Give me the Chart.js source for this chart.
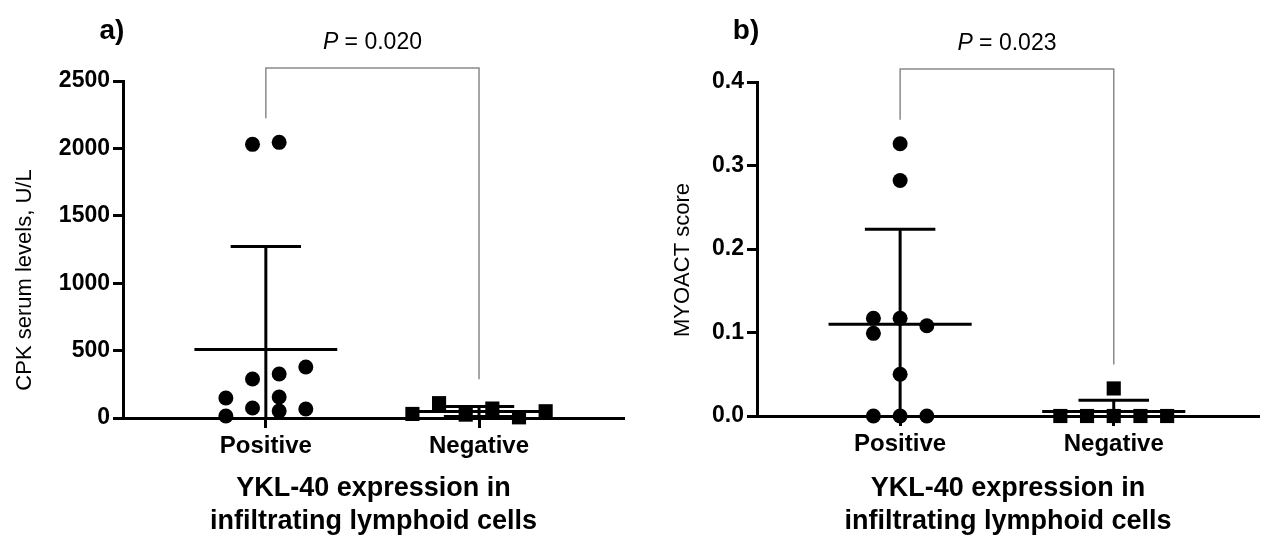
<!DOCTYPE html>
<html lang="en">
<head>
<meta charset="UTF-8">
<title>YKL-40 expression in infiltrating lymphoid cells</title>
<script src="https://cdn.jsdelivr.net/npm/chart.js"></script>
<style>
  body { margin: 0; background: #fff; }
  #wrap { position: relative; width: 1269px; height: 538px; }
  .panel { position: absolute; top: 0; height: 538px; }
</style>
</head>
<body>
<div id="wrap">
  <div class="panel" style="left:0;width:634px"><canvas id="chartA"></canvas></div>
  <div class="panel" style="left:634px;width:635px"><canvas id="chartB"></canvas></div>
</div>
<script>
const categories = ['Positive', 'Negative'];

// a) CPK serum levels, U/L
const cpkPositive = [2030, 2045, 378, 289, 326, 148, 156, 74, 67, 52, 15];
const cpkPositiveCol = [-0.5, 0.5, 1.5, -0.5, 0.5, -1.5, 0.5, -0.5, 1.5, 0.5, -1.5];
const cpkNegative = [30, 110, 25, 70, 5, 50];
const cpkNegativeCol = [-2.5, -1.5, -0.5, 0.5, 1.5, 2.5];
const cpkTicks = [0, 500, 1000, 1500, 2000, 2500];

// b) MYOACT score
const myoPositive = [0.326, 0.282, 0.117, 0.117, 0.108, 0.099, 0.05, 0, 0, 0];
const myoPositiveCol = [0, 0, -1, 0, 1, -1, 0, -1, 0, 1];
const myoNegative = [0, 0, 0, 0, 0, 0.033];
const myoNegativeCol = [-2, -1, 0, 1, 2, 0];
const myoTicks = [0, 0.1, 0.2, 0.3, 0.4];

const pValues = ['0.020', '0.023'];

const FONT = "'Liberation Sans', Arial, sans-serif";
Chart.defaults.font.family = FONT;
Chart.defaults.color = '#000';

const JITTER = 0.125, MEAN_HALF = 0.335, CAP_HALF = 0.165;

function mean(a) { return a.reduce((s, v) => s + v, 0) / a.length; }
function sd(a) {
  const m = mean(a);
  return Math.sqrt(a.reduce((s, v) => s + (v - m) * (v - m), 0) / (a.length - 1));
}

function groupDatasets(values, cols, center, style, radius) {
  const m = mean(values), s = sd(values);
  const seg = pts => ({
    type: 'line', data: pts, borderColor: '#000', borderWidth: 3,
    pointRadius: 0, clip: 0, order: 2
  });
  return [
    seg([{ x: center - MEAN_HALF, y: m }, { x: center + MEAN_HALF, y: m }]),
    seg([{ x: center, y: m - s }, { x: center, y: m + s }]),
    seg([{ x: center - CAP_HALF, y: m + s }, { x: center + CAP_HALF, y: m + s }]),
    seg([{ x: center - CAP_HALF, y: m - s }, { x: center + CAP_HALF, y: m - s }]),
    {
      type: 'scatter',
      data: values.map((v, i) => ({ x: center + cols[i] * JITTER, y: v })),
      pointStyle: style, pointRadius: radius, pointHoverRadius: radius,
      backgroundColor: '#000', borderColor: '#000', borderWidth: 0,
      clip: false, order: 1
    }
  ];
}

// bracket, P value, y title and panel letter
const annotate = {
  id: 'annotate',
  afterDraw(chart, args, o) {
    const { ctx, chartArea, scales: { x, y } } = chart;
    const x1 = x.getPixelForValue(1), x2 = x.getPixelForValue(2);
    const top = chartArea.top - 13;
    const yl = y.getPixelForValue(o.leftMax) - 24;
    const yr = y.getPixelForValue(o.rightMax) - 24;
    ctx.save();
    ctx.strokeStyle = '#8a8a8a';
    ctx.lineWidth = 1.5;
    ctx.beginPath();
    ctx.moveTo(x1, yl); ctx.lineTo(x1, top); ctx.lineTo(x2, top); ctx.lineTo(x2, yr);
    ctx.stroke();

    ctx.fillStyle = '#000';
    ctx.textBaseline = 'middle';
    ctx.textAlign = 'left';
    const rest = ' = ' + o.p;
    ctx.font = 'italic 23px ' + FONT;
    const wP = ctx.measureText('P').width;
    ctx.font = '23px ' + FONT;
    const wR = ctx.measureText(rest).width;
    const sx = (x1 + x2) / 2 - (wP + wR) / 2;
    const ty = chartArea.top - 38;
    ctx.font = 'italic 23px ' + FONT;
    ctx.fillText('P', sx, ty);
    ctx.font = '23px ' + FONT;
    ctx.fillText(rest, sx + wP, ty);

    ctx.font = 'bold 28px ' + FONT;
    ctx.textAlign = 'center';
    ctx.fillText(o.letter, 112, 31);

    // y axis title
    ctx.translate(o.titleX, o.titleY);
    ctx.rotate(-Math.PI / 2);
    ctx.font = '22px ' + FONT;
    ctx.fillText(o.yTitle, 0, 0);
    ctx.restore();
  }
};

function makeChart(id, cfg) {
  const datasets = [
    ...groupDatasets(cfg.pos, cfg.posCol, 1, 'circle', 7.5),
    ...groupDatasets(cfg.neg, cfg.negCol, 2, 'rect', 10)
  ];
  const negTop = Math.max(Math.max(...cfg.neg), mean(cfg.neg) + sd(cfg.neg));
  return new Chart(document.getElementById(id), {
    type: 'scatter',
    data: { datasets },
    plugins: [annotate],
    options: {
      responsive: true,
      maintainAspectRatio: false,
      animation: false,
      layout: { padding: { top: cfg.top, right: cfg.right, left: 0, bottom: 0 } },
      plugins: {
        legend: { display: false },
        tooltip: { enabled: false },
        annotate: {
          leftMax: Math.max(...cfg.pos), rightMax: negTop, p: cfg.p, letter: cfg.letter,
          yTitle: cfg.yTitle, titleX: cfg.titleX, titleY: cfg.titleY
        }
      },
      scales: {
        x: {
          type: 'linear', min: 0.33, max: 2.68,
          afterBuildTicks: s => { s.ticks = categories.map((c, i) => ({ value: i + 1 })); },
          afterFit: s => { s.height = cfg.xHeight; },
          border: { display: true, color: '#000', width: 3 },
          grid: { drawOnChartArea: false, drawTicks: true, tickLength: 10, tickWidth: 3, tickColor: '#000' },
          ticks: {
            autoSkip: false, maxRotation: 0, padding: 4,
            font: { size: 24, weight: 'bold' },
            callback: v => categories[Math.round(v) - 1]
          },
          title: {
            display: true,
            text: ['YKL-40 expression in', 'infiltrating lymphoid cells'],
            font: { size: 27, weight: 'bold', lineHeight: 1.22 },
            padding: { top: 0, bottom: 0 }
          }
        },
        y: {
          min: cfg.ticks[0], max: cfg.ticks[cfg.ticks.length - 1],
          afterBuildTicks: s => { s.ticks = cfg.ticks.map(v => ({ value: v })); },
          afterFit: s => { s.width = 123; },
          border: { display: true, color: '#000', width: 3 },
          grid: { drawOnChartArea: false, drawTicks: true, tickLength: 10, tickWidth: 3, tickColor: '#000' },
          ticks: {
            padding: 3,
            font: { size: 23, weight: 'bold' },
            callback: cfg.fmt
          },
          title: { display: false }
        }
      }
    }
  });
}

makeChart('chartA', {
  pos: cpkPositive, posCol: cpkPositiveCol, neg: cpkNegative, negCol: cpkNegativeCol,
  ticks: cpkTicks, fmt: v => String(v), yTitle: 'CPK serum levels, U/L',
  p: pValues[0], letter: 'a)', top: 81, right: 3, xHeight: 120, titleX: 25, titleY: 280
});

makeChart('chartB', {
  pos: myoPositive, posCol: myoPositiveCol, neg: myoNegative, negCol: myoNegativeCol,
  ticks: myoTicks, fmt: v => v.toFixed(1), yTitle: 'MYOACT score',
  p: pValues[1], letter: 'b)', top: 82, right: 7, xHeight: 122, titleX: 49, titleY: 260
});
</script>
</body>
</html>
